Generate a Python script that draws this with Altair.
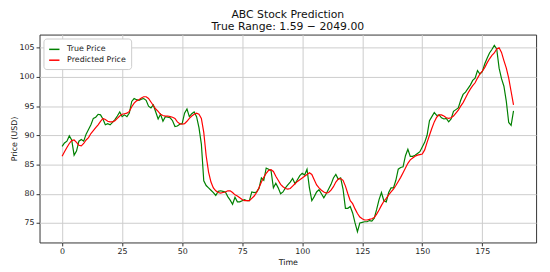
import altair as alt
import pandas as pd

true_price = [
    88.1, 88.7, 89.0, 89.9, 89.2, 86.6, 87.3, 89.0, 89.3, 89.0,
    90.2, 91.0, 91.8, 92.9, 93.1, 93.6, 93.5, 92.8, 91.8, 92.0,
    91.8, 92.2, 92.7, 93.3, 94.0, 93.2, 93.5, 93.2, 93.8, 95.8,
    96.3, 96.1, 96.0, 96.2, 96.3, 96.0, 95.0, 94.7, 95.2, 94.0,
    92.8, 93.6, 92.4, 93.2, 93.1, 93.0, 92.5, 91.5, 91.6, 91.9,
    92.0, 93.8, 94.5, 93.2, 93.7, 94.0, 93.2, 91.3, 88.5, 82.2,
    81.4, 81.0, 80.6, 80.2, 79.7, 80.4, 80.5, 80.4, 80.3, 79.5,
    78.9, 78.2, 79.4, 78.6, 78.6, 78.8, 79.0, 78.8, 78.8, 80.3,
    80.2, 80.3, 80.9, 82.7, 82.3, 84.4, 84.2, 84.0, 81.0, 81.8,
    81.0, 80.0, 80.3, 81.0, 81.5, 82.0, 82.6, 81.7, 82.4, 83.1,
    83.5, 83.2, 84.2, 81.0, 78.8, 79.5, 80.3, 80.7, 80.0, 79.3,
    80.0, 80.8, 81.6, 82.7, 83.3, 82.5, 82.7, 80.8, 77.5, 77.5,
    77.8, 76.7, 75.0, 73.5, 75.0, 75.1, 75.2, 75.2, 75.4, 75.3,
    75.8, 77.3, 79.0, 80.2, 78.8, 78.6, 80.2, 81.0, 81.0, 82.3,
    84.2, 84.5, 84.6, 86.5, 87.6, 86.4, 86.4, 86.6, 86.9, 87.2,
    88.0, 88.8, 90.0, 92.5, 93.2, 93.9, 93.4, 93.5, 93.0, 92.8,
    92.9, 92.3, 92.8, 94.1, 94.4, 94.7, 96.0, 97.0, 97.4, 98.0,
    98.6, 99.4, 99.8, 101.1, 100.5, 100.9, 102.2, 103.2, 104.1, 104.7,
    105.4, 104.8, 101.5, 99.7, 98.4, 95.8, 92.2, 91.7, 94.2,
]

predicted_price = [
    86.4, 87.2, 87.9, 88.6, 89.1, 89.2, 88.8, 88.3, 88.2, 88.6,
    89.2, 89.6, 90.3, 90.8, 91.3, 91.8, 92.4, 92.9, 92.7, 92.4,
    92.3, 92.3, 92.5, 92.9, 93.3, 93.6, 93.7, 93.8, 94.1, 94.9,
    95.5, 95.9, 96.1, 96.4, 96.6, 96.6, 96.3, 95.7, 95.1, 94.5,
    94.1, 93.6, 93.4, 93.3, 93.3, 93.2, 93.1, 92.9, 92.3, 92.0,
    91.9, 92.0, 92.4, 92.9, 93.3, 93.6, 93.8, 93.6, 92.9, 90.5,
    86.5, 83.7, 82.0, 81.0, 80.5, 80.2, 80.1, 80.2, 80.3, 80.5,
    80.5, 80.2, 79.8, 79.6, 79.3, 79.0, 78.8, 78.8, 78.8, 79.2,
    79.6, 80.2, 81.0, 82.0, 82.8, 83.5, 84.0, 84.1, 83.8, 83.0,
    82.3, 81.6, 81.2, 80.9, 80.8, 80.9, 81.3, 81.7, 82.1, 82.4,
    82.7, 83.0, 83.3, 83.6, 83.3, 82.4, 81.5, 81.0, 80.6, 80.3,
    80.1, 80.2, 80.6, 81.2, 82.0, 82.5, 82.6, 82.3, 81.3, 80.0,
    78.8, 78.3, 77.4, 76.6, 76.0, 75.7, 75.5, 75.5, 75.6, 75.7,
    75.9, 76.5, 77.2, 78.0, 78.7, 79.2, 79.8, 80.3, 80.8, 81.4,
    82.1, 82.8, 83.6, 84.4, 85.2, 85.8, 86.1, 86.4, 86.6, 86.7,
    86.8, 87.5, 88.8, 90.0, 91.2, 92.3, 93.1, 93.5, 93.5, 93.3,
    93.0, 92.9, 93.0, 93.3, 93.8, 94.3, 95.0, 95.6, 96.4, 97.2,
    97.9, 98.5, 99.0, 99.8, 100.5, 101.0, 101.6, 102.4, 103.1, 103.7,
    104.1, 104.8, 105.0, 104.2, 102.8, 101.5, 99.8, 97.5, 95.2,
]

series_names = ["True Price", "Predicted Price"]
series_colors = ["green", "red"]
x_ticks = [0, 25, 50, 75, 100, 125, 150, 175]
y_ticks = [75, 80, 85, 90, 95, 100, 105]

rows = []
for i, v in enumerate(true_price):
    rows.append({"t": i, "value": v, "series": series_names[0], "order": 0})
for i, v in enumerate(predicted_price):
    rows.append({"t": i, "value": v, "series": series_names[1], "order": 1})
df = pd.DataFrame(rows)

FONT = "DejaVu Sans"

chart = (
    alt.Chart(df)
    .mark_line(strokeWidth=1.2)
    .encode(
        x=alt.X(
            "t:Q",
            scale=alt.Scale(domain=[-9.4, 197.4], nice=False, zero=False),
            axis=alt.Axis(values=x_ticks, title="Time", format="d"),
        ),
        y=alt.Y(
            "value:Q",
            scale=alt.Scale(domain=[71.65, 107.25], nice=False, zero=False),
            axis=alt.Axis(values=y_ticks, title="Price (USD)"),
        ),
        color=alt.Color(
            "series:N",
            scale=alt.Scale(domain=series_names, range=series_colors),
            legend=alt.Legend(
                title=None,
                orient="none",
                legendX=4,
                legendY=4,
                symbolType="stroke",
                symbolSize=110,
                symbolStrokeWidth=1.5,
                labelFont=FONT,
                labelFontSize=8,
                labelColor="#222",
                labelOffset=7,
                fillColor="white",
                strokeColor="#cccccc",
                cornerRadius=3,
                padding=5,
                rowPadding=1,
            ),
        ),
        detail="series:N",
        order="order:Q",
    )
    .properties(
        width=504,
        height=211,
        autosize=alt.AutoSizeParams(type="none"),
        padding={"left": 32, "top": 25, "right": 6, "bottom": 28},
        title=alt.Title(
            ["ABC Stock Prediction", "True Range: 1.59 \u2212 2049.00"],
            font=FONT,
            fontSize=11,
            fontWeight="normal",
            color="#111",
            anchor="middle",
            offset=3,
            lineHeight=12,
        ),
    )
    .configure_view(stroke="#333", strokeWidth=1)
    .configure_axis(
        domain=False,
        grid=True,
        gridColor="#cccccc",
        gridWidth=1,
        tickColor="#333",
        tickSize=3.5,
        labelFont=FONT,
        labelFontSize=8,
        labelColor="#222",
        labelPadding=2,
        titleFont=FONT,
        titleFontSize=8,
        titleFontWeight="normal",
        titleColor="#111",
    )
    .configure_axisY(titlePadding=1)
    .configure_axisX(titlePadding=3)
)

chart.save("out.html", embed_options={"renderer": "svg", "actions": False})
